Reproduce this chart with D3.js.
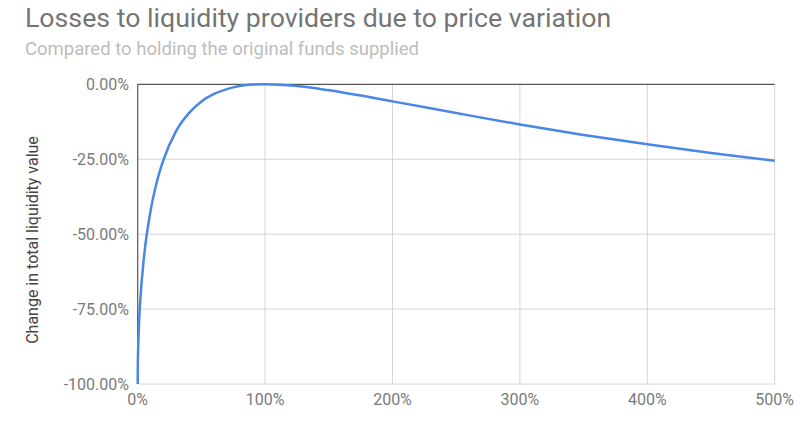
<!DOCTYPE html>
<html>
<head>
<meta charset="utf-8">
<script src="https://cdn.jsdelivr.net/npm/d3@7"></script>
<style>
  body { margin: 0; background: #fff; }
  text { font-family: Roboto, "Noto Sans", sans-serif; }
</style>
</head>
<body>
<svg id="chart" width="800" height="423"></svg>
<script>
// price ratio (1 = 100%) vs change in liquidity value
const priceRatio = [0, 0.001, 0.003, 0.01, 0.02, 0.05, 0.1, 0.15, 0.2, 0.3, 0.4, 0.5, 0.6, 0.7, 0.8, 0.9, 1.0, 1.25, 1.5, 2.0, 2.5, 3.0, 3.5, 4.0, 4.5, 5.0];
const valueChange = [-1.0, -0.937, -0.891, -0.802, -0.723, -0.574, -0.425, -0.326, -0.255, -0.157, -0.097, -0.057, -0.032, -0.016, -0.006, -0.001, 0.0, -0.006, -0.020, -0.057, -0.096, -0.134, -0.169, -0.200, -0.229, -0.255];
const xTicks = [0, 1, 2, 3, 4, 5];
const yTicks = [0, -0.25, -0.5, -0.75, -1];

const title = "Losses to liquidity providers due to price variation";
const subtitle = "Compared to holding the original funds supplied";
const yTitle = "Change in total liquidity value";

const svg = d3.select("#chart");
const plotL = 137.7, plotR = 774.7, plotT = 84.3, plotB = 384;

const x = d3.scaleLinear().domain([0, 5]).range([plotL, plotR]);
const y = d3.scaleLinear().domain([-1, 0]).range([plotB, plotT]);

svg.append("text")
  .attr("x", 25).attr("y", 27)
  .attr("font-size", 26.7)
  .attr("fill", "#757575")
  .text(title);

svg.append("text")
  .attr("x", 25).attr("y", 55)
  .attr("font-size", 18.5)
  .attr("fill", "#bdbdbd")
  .text(subtitle);

// gridlines
const grid = svg.append("g");
grid.selectAll("line.v")
  .data(xTicks.filter(d => d > 0))
  .join("line")
  .attr("class", "v")
  .attr("x1", d => x(d)).attr("x2", d => x(d))
  .attr("y1", plotT).attr("y2", plotB)
  .attr("stroke", "#d6d6d6").attr("stroke-width", 1);
grid.selectAll("line.h")
  .data(yTicks.filter(d => d < 0))
  .join("line")
  .attr("class", "h")
  .attr("x1", plotL).attr("x2", plotR)
  .attr("y1", d => y(d)).attr("y2", d => y(d))
  .attr("stroke", "#d6d6d6").attr("stroke-width", 1);

// baselines
svg.append("line")
  .attr("x1", plotL).attr("x2", plotR)
  .attr("y1", y(0)).attr("y2", y(0))
  .attr("stroke", "#555").attr("stroke-width", 1.2);
svg.append("line")
  .attr("x1", x(0)).attr("x2", x(0))
  .attr("y1", plotT).attr("y2", plotB)
  .attr("stroke", "#555").attr("stroke-width", 1.2);

// axis labels
const fmtY = d3.format(".2%");
const fmtX = d3.format(".0%");

svg.append("g")
  .selectAll("text")
  .data(yTicks)
  .join("text")
  .attr("x", 129)
  .attr("y", d => y(d))
  .attr("dy", "0.35em")
  .attr("text-anchor", "end")
  .attr("font-size", 16)
  .attr("fill", "#7a7a7a")
  .text(d => fmtY(d).replace("−", "-"));

svg.append("g")
  .selectAll("text")
  .data(xTicks)
  .join("text")
  .attr("x", d => x(d))
  .attr("y", 405)
  .attr("text-anchor", "middle")
  .attr("font-size", 16)
  .attr("fill", "#7a7a7a")
  .text(d => fmtX(d));

svg.append("text")
  .attr("transform", `translate(38,240) rotate(-90)`)
  .attr("text-anchor", "middle")
  .attr("font-size", 16)
  .attr("fill", "#444")
  .text(yTitle);

// curve
const line = d3.line()
  .x((d, i) => x(priceRatio[i]))
  .y(d => y(d))
  .curve(d3.curveMonotoneX);

svg.append("path")
  .datum(valueChange)
  .attr("fill", "none")
  .attr("stroke", "#4a86e8")
  .attr("stroke-width", 2.5)
  .attr("d", line);
</script>
</body>
</html>
